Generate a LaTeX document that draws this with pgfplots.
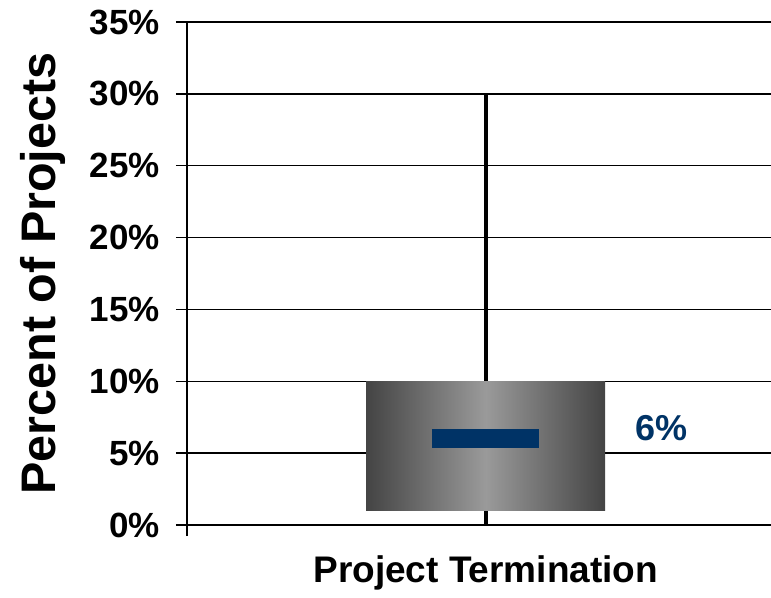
\documentclass[border=0pt]{standalone}
\usepackage{fontspec}
\setmainfont{Liberation Sans}
\usepackage{pgfplots}
\pgfplotsset{compat=1.18}
\definecolor{navy}{RGB}{0,51,102}
\definecolor{boxdark}{RGB}{68,68,68}
\definecolor{boxlight}{RGB}{154,154,154}
\begin{document}
\begin{tikzpicture}
\begin{axis}[
  name=ax,
  scale only axis,
  width=584pt, height=503pt,
  xmin=0, xmax=1.955, ymin=0, ymax=35,
  axis lines*=left,
  axis line style={-, black, line width=1.5pt},
  ytick={0,5,...,35},
  yticklabels={0\%,5\%,10\%,15\%,20\%,25\%,30\%,35\%},
  xtick={0}, xticklabels={},
  tick align=outside,
  major tick length=11pt,
  tick style={black, line width=1.5pt},
  ymajorgrids,
  grid style={black, line width=1.5pt},
  yticklabel style={font=\fontsize{35}{40}\selectfont\bfseries, inner sep=0pt, anchor=east, xshift=-16pt},
  ylabel={Percent of Projects},
  ylabel style={font=\fontsize{48.5}{54}\selectfont\bfseries, at={(axis description cs:-0.226,0.5)}, anchor=base, inner sep=0pt},
  xlabel={Project Termination},
  xlabel style={font=\fontsize{37}{42}\selectfont\bfseries, at={(axis description cs:0.5115,0)}, anchor=base, yshift=-57pt, inner sep=0pt},
  clip=false,
]
% whisker (min to max)
\addplot[black, line width=4pt, forget plot] coordinates {(1,0) (1,30)};
% box (lower quartile to upper quartile)
\addplot[draw=none, left color=boxdark, right color=boxdark, middle color=boxlight, forget plot]
  coordinates {(0.6,1) (1.4,1) (1.4,10) (0.6,10)};
% median
\addplot[navy, line width=18.7pt, forget plot] coordinates {(0.82,6) (1.18,6)};
\node[anchor=base, inner sep=0pt, text=navy, font=\fontsize{36}{40}\selectfont\bfseries] at (axis cs:1.587,5.87) {6\%};
\coordinate (o) at (axis cs:0,0);
\end{axis}
\pgfresetboundingbox
\path (o) ++(-187pt,-72pt) rectangle ++(771pt,597pt);
\end{tikzpicture}
\end{document}
